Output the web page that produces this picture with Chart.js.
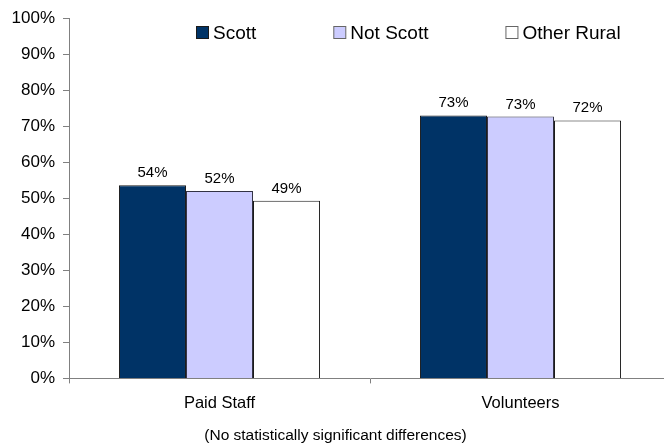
<!DOCTYPE html>
<html>
<head>
<meta charset="utf-8">
<script src="https://cdn.jsdelivr.net/npm/chart.js@4.4.1/dist/chart.umd.min.js"></script>
<style>
html,body{margin:0;padding:0;background:#fff;overflow:hidden;}
#wrap{width:664px;height:446px;overflow:hidden;}
</style>
</head>
<body>
<div id="wrap"><canvas id="chart" width="672" height="446"></canvas></div>
<script>
const categories=["Paid Staff","Volunteers"];
const seriesNames=["Scott","Not Scott","Other Rural"];
const scott=[53.6,73.0];
const notScott=[52.0,72.7];
const otherRural=[49.3,71.6];
const yTicks=[0,10,20,30,40,50,60,70,80,90,100];

const FONT="'Liberation Sans', Arial, sans-serif";

// value labels over each bar
const barLabels={
id:"barLabels",
afterDatasetsDraw(chart){
const ctx=chart.ctx;
ctx.save();
ctx.font="15px "+FONT;
ctx.fillStyle="#000";
ctx.textAlign="center";
ctx.textBaseline="alphabetic";
chart.data.datasets.forEach((ds,i)=>{
chart.getDatasetMeta(i).data.forEach((bar,j)=>{
ctx.fillText(Math.round(ds.data[j])+"%",bar.x,bar.y-8);
});
});
ctx.restore();
}
};

// legend sits inside the plot, drawn by hand
const topLegend={
id:"topLegend",
afterDraw(chart){
const ctx=chart.ctx;
ctx.save();
ctx.font="19px "+FONT;
ctx.textBaseline="middle";
ctx.textAlign="left";
let x=196;
const y=33;
chart.data.datasets.forEach(ds=>{
ctx.fillStyle=ds.backgroundColor;
ctx.fillRect(x+0.5,y-6.5,12,12);
ctx.strokeStyle=ds.legendBorder;
ctx.lineWidth=1;
ctx.strokeRect(x+0.5,y-6.5,12,12);
ctx.fillStyle="#000";
ctx.fillText(ds.label,x+17,y+1);
x+=17+ctx.measureText(ds.label).width+77;
});
ctx.restore();
}
};

new Chart(document.getElementById("chart"),{
type:"bar",
data:{
labels:categories,
datasets:[
{label:seriesNames[0],data:scott,backgroundColor:"#003366",borderColor:"#1a1a1a",borderWidth:1,legendBorder:"#1a1a1a"},
{label:seriesNames[1],data:notScott,backgroundColor:"#ccccff",borderColor:"#333344",borderWidth:1,legendBorder:"#666666"},
{label:seriesNames[2],data:otherRural,backgroundColor:"#ffffff",borderColor:"#1a1a1a",borderWidth:1,legendBorder:"#666666"}
]
},
options:{
responsive:false,
animation:false,
devicePixelRatio:1,
layout:{padding:{top:15,right:1,left:0,bottom:0}},
datasets:{bar:{categoryPercentage:0.668,barPercentage:1}},
plugins:{
legend:{display:false},
tooltip:{enabled:false},
title:{
display:true,
position:"bottom",
text:"(No statistically significant differences)",
color:"#000",
font:{family:FONT,size:15.5,weight:"normal"},
padding:{top:0,bottom:1}
}
},
scales:{
x:{
grid:{drawOnChartArea:false,drawTicks:true,tickLength:5,color:"#808080"},
border:{color:"#808080",width:1},
ticks:{color:"#000",font:{family:FONT,size:16.5},padding:10},
afterFit(s){s.height=48;}
},
y:{
min:0,
max:100,
afterBuildTicks(s){s.ticks=yTicks.map(v=>({value:v}));},
grid:{drawOnChartArea:false,drawTicks:true,tickLength:6,color:"#808080"},
border:{color:"#808080",width:1},
ticks:{color:"#000",font:{family:FONT,size:17},padding:8,callback:v=>v+"%"},
afterFit(s){s.width=69;}
}
}
},
plugins:[barLabels,topLegend]
});
</script>
</body>
</html>
